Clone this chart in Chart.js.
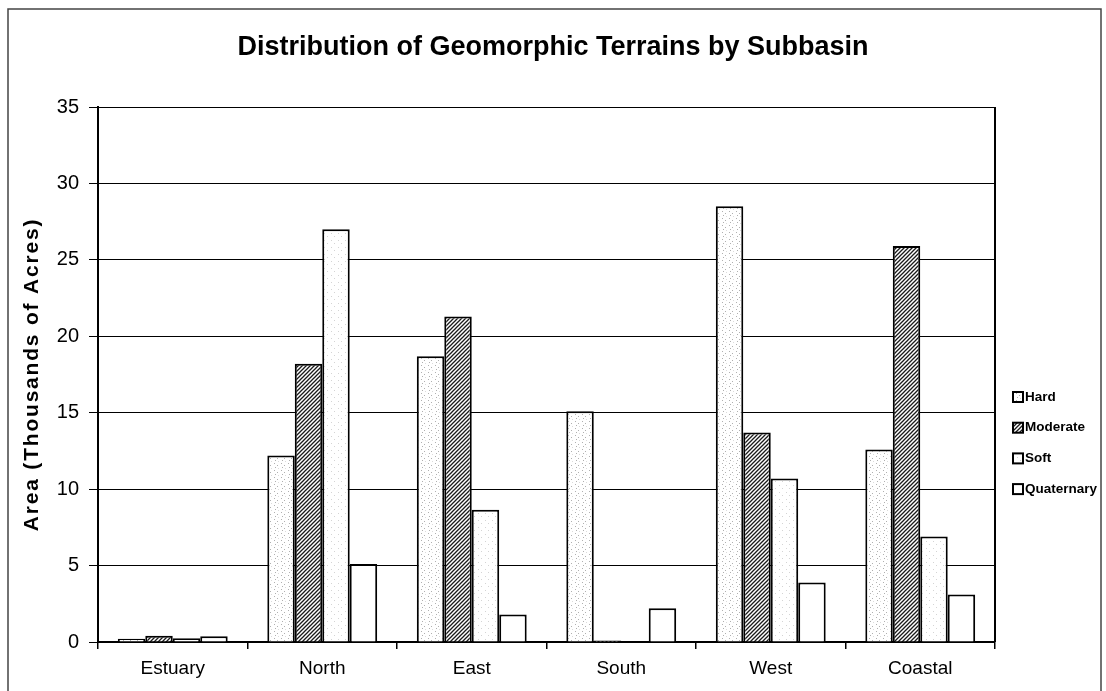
<!DOCTYPE html>
<html>
<head>
<meta charset="utf-8">
<script src="https://cdn.jsdelivr.net/npm/chart.js@4/dist/chart.umd.min.js"></script>
<style>
    html, body { margin: 0; padding: 0; background: #fff; }
    #wrap { position: absolute; left: 0; top: 0; width: 1106px; height: 691px; }
</style>
</head>
<body>
<div id="wrap"><canvas id="terrainChart" width="1106" height="691"></canvas></div>
<script>
// area per subbasin, thousands of acres
const subbasins = ['Estuary', 'North', 'East', 'South', 'West', 'Coastal'];
const hard = [0.22, 12.2, 18.7, 15.1, 28.5, 12.6];
const moderate = [0.41, 18.2, 21.3, 0.1, 13.7, 25.9];
const soft = [0.24, 27.0, 8.65, 0, 10.7, 6.9];
const quaternary = [0.37, 5.1, 1.8, 2.2, 3.9, 3.1];
const yTicks = [0, 5, 10, 15, 20, 25, 30, 35];
const yTitle = 'Area (Thousands of Acres)';

const FONT = '"Liberation Sans", Arial, Helvetica, sans-serif';
Chart.defaults.font.family = FONT;
Chart.defaults.color = '#000';

// fill patterns for the bars
function makePattern(kind) {
    const c = document.createElement('canvas');
    const size = kind === 'hatch' ? 4 : 7;
    c.width = size;
    c.height = size;
    const ctx = c.getContext('2d');
    ctx.fillStyle = '#fff';
    ctx.fillRect(0, 0, size, size);
    if (kind === 'hatch') {
        ctx.strokeStyle = '#1a1a1a';
        ctx.lineWidth = 1.3;
        ctx.beginPath();
        ctx.moveTo(-1, size + 1); ctx.lineTo(size + 1, -1);
        ctx.moveTo(-1, 1); ctx.lineTo(1, -1);
        ctx.moveTo(size - 1, size + 1); ctx.lineTo(size + 1, size - 1);
        ctx.stroke();
    } else if (kind === 'dense') {
        ctx.fillStyle = '#b0b0b0';
        ctx.fillRect(1, 1, 1, 1);
        ctx.fillRect(4, 3, 1, 1);
        ctx.fillRect(2, 5, 1, 1);
        ctx.fillStyle = '#dcdcdc';
        ctx.fillRect(5, 6, 1, 1);
    } else if (kind === 'sparse') {
        ctx.fillStyle = '#d4d4d4';
        ctx.fillRect(2, 2, 1, 1);
        ctx.fillRect(5, 5, 1, 1);
    }
    return ctx.createPattern(c, 'repeat');
}

const fills = {
    hard: makePattern('dense'),
    moderate: makePattern('hatch'),
    soft: makePattern('sparse'),
    quaternary: '#fff'
};

// page frame, plot border, rotated axis title and the legend on the right
const chartDecor = {
    id: 'chartDecor',
    beforeDraw(chart) {
        const ctx = chart.ctx;
        ctx.save();
        ctx.fillStyle = '#fff';
        ctx.fillRect(0, 0, chart.width, chart.height);
        ctx.strokeStyle = '#444';
        ctx.lineWidth = 1.5;
        ctx.beginPath();
        ctx.moveTo(8, chart.height);
        ctx.lineTo(8, 9);
        ctx.lineTo(1101, 9);
        ctx.lineTo(1101, chart.height);
        ctx.stroke();
        ctx.restore();
    },
    afterDraw(chart) {
        const ctx = chart.ctx;
        const area = chart.chartArea;
        ctx.save();
        ctx.strokeStyle = '#000';
        ctx.lineWidth = 2;
        ctx.beginPath();
        ctx.moveTo(area.right, area.top);
        ctx.lineTo(area.right, area.bottom);
        ctx.stroke();

        // y axis title
        ctx.save();
        ctx.translate(32, (area.top + area.bottom) / 2);
        ctx.rotate(-Math.PI / 2);
        ctx.font = 'bold 21px ' + FONT;
        ctx.letterSpacing = '1.8px';
        ctx.textAlign = 'center';
        ctx.textBaseline = 'middle';
        ctx.fillStyle = '#000';
        ctx.fillText(yTitle, 0, 0);
        ctx.restore();

        const x = 1013;
        let y = 397;
        ctx.font = 'bold 13.5px ' + FONT;
        ctx.textBaseline = 'middle';
        ctx.textAlign = 'left';
        chart.data.datasets.forEach(ds => {
            ctx.fillStyle = ds.backgroundColor;
            ctx.fillRect(x, y - 5, 10, 10);
            ctx.strokeStyle = '#000';
            ctx.lineWidth = 2;
            ctx.strokeRect(x, y - 5, 10, 10);
            ctx.fillStyle = '#000';
            ctx.fillText(ds.label, x + 12, y);
            y += 30.7;
        });
        ctx.restore();
    }
};

function series(label, data, fill) {
    return {
        label: label,
        data: data,
        backgroundColor: fill,
        borderColor: '#000',
        borderWidth: 2,
        categoryPercentage: 0.735,
        barPercentage: 1.0
    };
}

new Chart(document.getElementById('terrainChart'), {
    type: 'bar',
    data: {
        labels: subbasins,
        datasets: [
            series('Hard', hard, fills.hard),
            series('Moderate', moderate, fills.moderate),
            series('Soft', soft, fills.soft),
            series('Quaternary', quaternary, fills.quaternary)
        ]
    },
    options: {
        responsive: false,
        animation: false,
        layout: { padding: 0 },
        plugins: {
            legend: { display: false },
            tooltip: { enabled: false },
            title: {
                display: true,
                text: 'Distribution of Geomorphic Terrains by Subbasin',
                font: { size: 27, weight: 'bold' },
                color: '#000',
                padding: { top: 31, bottom: 43.6 }
            }
        },
        scales: {
            x: {
                afterFit(scale) { scale.height = 49; },
                grid: {
                    offset: true,
                    drawOnChartArea: false,
                    drawTicks: true,
                    tickLength: 7,
                    color: '#000',
                    lineWidth: 1.5
                },
                border: { display: true, color: '#000', width: 2 },
                ticks: { font: { size: 19 }, color: '#000', padding: 8 }
            },
            y: {
                min: 0,
                max: 35,
                afterFit(scale) { scale.width = 98; },
                afterBuildTicks(scale) {
                    scale.ticks = yTicks.map(v => ({ value: v }));
                },
                grid: { color: '#000', lineWidth: 1, tickLength: 9 },
                border: { display: true, color: '#000', width: 2 },
                ticks: { font: { size: 20 }, color: '#000', padding: 10 }
            },
            // blank strip on the right that holds the legend
            legendSpace: {
                position: 'right',
                afterFit(scale) { scale.width = 111; },
                grid: { display: false },
                border: { display: false },
                ticks: { display: false }
            }
        }
    },
    plugins: [chartDecor]
});
</script>
</body>
</html>
